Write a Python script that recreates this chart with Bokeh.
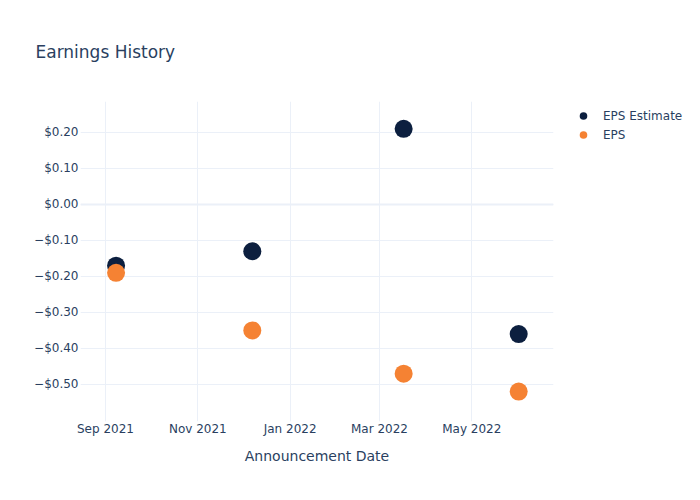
from datetime import datetime
from bokeh.plotting import figure
from bokeh.models import (ColumnDataSource, FixedTicker, Legend, LegendItem,
                          DatetimeTickFormatter, Title)
from bokeh.embed import file_html
from bokeh.resources import INLINE

# ---- data ----
dates = ["2021-09-08", "2021-12-07", "2022-03-17", "2022-06-01"]
eps_estimate = [-0.17, -0.13, 0.21, -0.36]
eps_actual = [-0.19, -0.35, -0.47, -0.52]
y_ticks = [0.2, 0.1, 0.0, -0.1, -0.2, -0.3, -0.4, -0.5]
y_tick_labels = ["$0.20", "$0.10", "$0.00", "\u2212$0.10", "\u2212$0.20",
                 "\u2212$0.30", "\u2212$0.40", "\u2212$0.50"]
x_tick_dates = ["2021-09-01", "2021-11-01", "2022-01-01", "2022-03-01", "2022-05-01"]

FONT = "DejaVu Sans"
TXT = "#2a3f5f"
GRID = "#ebf0f8"
C_EST = "#0c1f3f"
C_EPS = "#f58233"

def ms(s):
    return datetime.strptime(s, "%Y-%m-%d").timestamp() * 1000.0

xd = [datetime.strptime(d, "%Y-%m-%d") for d in dates]
src = ColumnDataSource(dict(x=xd, est=eps_estimate, eps=eps_actual))

p = figure(frame_width=473, frame_height=320, x_axis_type="datetime",
           output_backend="svg", toolbar_location=None,
           x_range=(ms("2021-09-01") - 16.5 * 86400000, ms("2021-09-01") + 296 * 86400000),
           y_range=(-0.603, 0.286),
           min_border_left=80, min_border_right=131,
           min_border_top=100, min_border_bottom=64)
p.outline_line_color = None
p.background_fill_color = "white"
p.border_fill_color = "white"

t = Title(text="Earnings History", text_font=FONT, text_font_size="17px",
          text_color=TXT, text_font_style="normal", offset=-45, standoff=79)
p.add_layout(t, "above")

r1 = p.circle("x", "est", source=src, radius=9, radius_units="screen",
              color=C_EST, line_color=None)
r2 = p.circle("x", "eps", source=src, radius=9, radius_units="screen",
              color=C_EPS, line_color=None)

# axes
p.xaxis.ticker = FixedTicker(ticks=[ms(d) for d in x_tick_dates])
p.xaxis.formatter = DatetimeTickFormatter(days="%b %Y", months="%b %Y", years="%b %Y")
p.yaxis.ticker = FixedTicker(ticks=y_ticks)
p.yaxis.major_label_overrides = {v: l for v, l in zip(y_ticks, y_tick_labels)}
for ax in (p.xaxis, p.yaxis):
    ax.axis_line_color = None
    ax.major_tick_line_color = None
    ax.minor_tick_line_color = None
    ax.major_label_text_font = FONT
    ax.major_label_text_font_size = "12px"
    ax.major_label_text_color = TXT
p.yaxis.major_label_standoff = -4
p.xaxis.major_label_standoff = -6
p.xaxis.axis_label = "Announcement Date"
p.xaxis.axis_label_text_font = FONT
p.xaxis.axis_label_text_font_size = "14px"
p.xaxis.axis_label_text_font_style = "normal"
p.xaxis.axis_label_text_color = TXT
p.xaxis.axis_label_standoff = 9

p.xgrid.grid_line_color = GRID
p.ygrid.grid_line_color = GRID
p.ygrid.grid_line_width = 1

# zero line
p.hspan(y=[0], line_color=GRID, line_width=2)

legend = Legend(items=[LegendItem(label="EPS Estimate", renderers=[r1]),
                       LegendItem(label="EPS", renderers=[r2])],
                location=(20, 277), padding=0, margin=0, spacing=0,
                glyph_width=20, glyph_height=19, label_standoff=10,
                label_text_font=FONT, label_text_font_size="12px",
                label_text_color=TXT, border_line_color=None,
                background_fill_alpha=0)
p.add_layout(legend, "right")

open("out.html", "w").write(file_html(p, INLINE))
